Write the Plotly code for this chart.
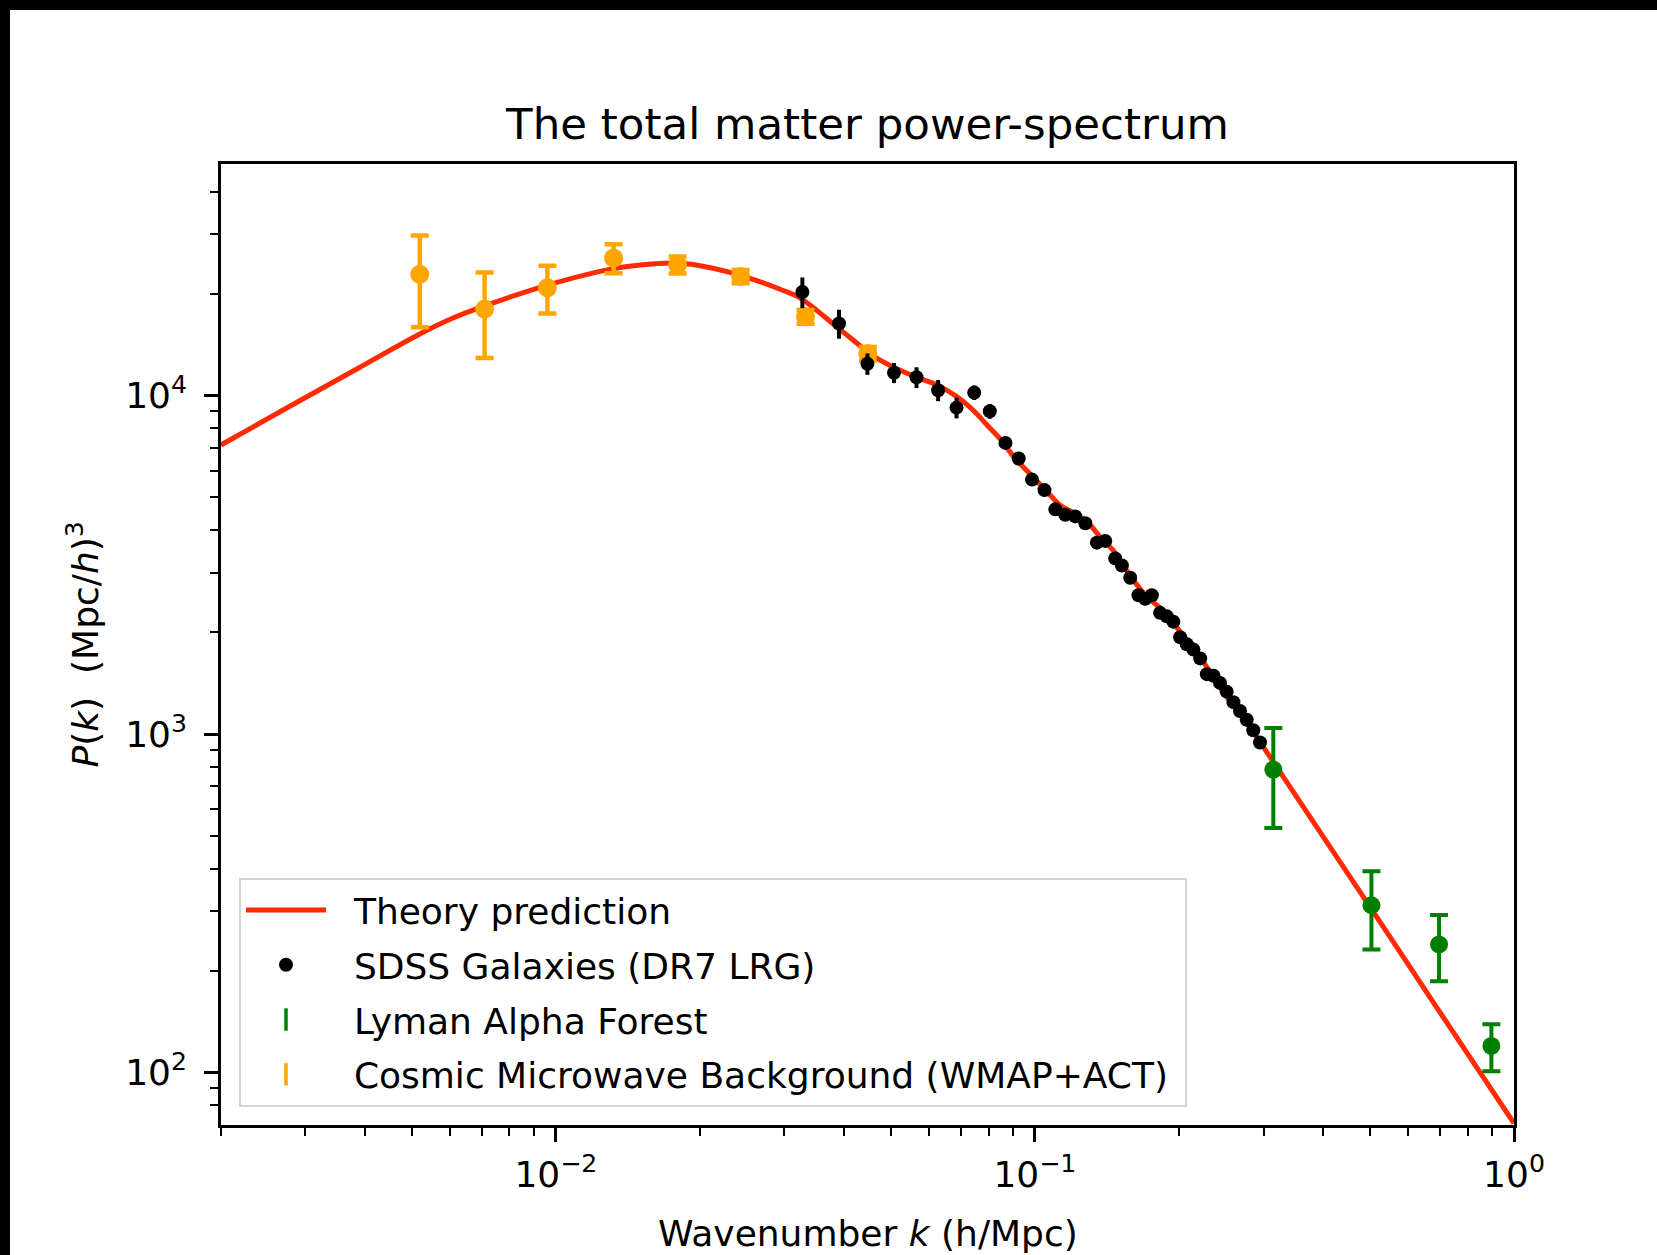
import plotly.graph_objects as go

# ---------------- data ----------------
k_theory = [0.0020, 0.00279, 0.00385, 0.0052, 0.0061, 0.0071, 0.00958, 0.0132, 0.0162, 0.0175,
            0.0192, 0.0243, 0.0294, 0.0322, 0.0387, 0.0453, 0.0476, 0.0559, 0.0625, 0.0689,
            0.0746, 0.0795, 0.0848, 0.0904, 0.0979, 0.1061, 0.1131, 0.1206, 0.1285, 0.1370,
            0.1461, 0.1582, 0.1714, 0.1857, 0.2012, 0.2180, 0.2360, 0.2559, 0.2772, 0.3002,
            0.5010, 0.6790, 1.0000]
P_theory = [7145, 9310, 12000, 15200, 16940, 18400, 21170, 23710, 24530, 24650,
            24420, 22650, 20600, 19500, 15900, 13300, 12700, 11400, 10750, 9900,
            9000, 8170, 7420, 6590, 5850, 5190, 4730, 4500, 4240, 3810,
            3470, 2930, 2540, 2310, 2000, 1740, 1470, 1245, 1080, 913,
            308, 161, 70.8]

k_sdss = [0.0327, 0.0390, 0.0447, 0.0508, 0.0566, 0.0628, 0.0686, 0.0747, 0.0805, 0.0868,
          0.0925, 0.0986, 0.1047, 0.1103, 0.1157, 0.1214, 0.1274, 0.1347, 0.1402, 0.1471,
          0.1519, 0.1581, 0.1645, 0.1699, 0.1754, 0.1825, 0.1885, 0.1945, 0.2010, 0.2075,
          0.2142, 0.2213, 0.2285, 0.2359, 0.2434, 0.2513, 0.2596, 0.2680, 0.2767, 0.2856,
          0.2950]
P_sdss = [20220, 16320, 12410, 11680, 11320, 10370, 9210, 10200, 8990, 7245,
          6513, 5645, 5256, 4610, 4446, 4395, 4193, 3676, 3720, 3303,
          3148, 2895, 2570, 2508, 2570, 2280, 2227, 2148, 1931, 1841,
          1776, 1673, 1503, 1486, 1416, 1334, 1242, 1170, 1102, 1026,
          944]
err_sdss = [2100, 1600, 900, 800, 800, 750, 650, 500, 450, 300,
            270, 230, 210, 185, 178, 175, 168, 147, 149, 132,
            126, 116, 103, 100, 103, 91, 89, 86, 77, 74,
            71, 67, 60, 59, 57, 53, 50, 47, 44, 41,
            38]

k_lya = [0.3145, 0.504, 0.6975, 0.897]
P_lya = [785, 312, 239, 119.8]
err_lya = [257, 81, 53, 19]

k_cmb = [0.0052, 0.0071, 0.0096, 0.0132, 0.01795, 0.0243, 0.0332, 0.0448]
P_cmb = [22800, 18000, 20830, 25470, 24330, 22480, 17100, 13300]
err_cmb = [6900, 5100, 3350, 2500, 1400, 1000, 800, 600]

x_major_vals = [0.01, 0.1, 1]
x_major_text = ["10<sup>\u22122</sup>", "10<sup>\u22121</sup>", "10<sup>0</sup>"]
x_minor_vals = [0.002, 0.003, 0.004, 0.005, 0.006, 0.007, 0.008, 0.009,
                0.02, 0.03, 0.04, 0.05, 0.06, 0.07, 0.08, 0.09,
                0.2, 0.3, 0.4, 0.5, 0.6, 0.7, 0.8, 0.9]
y_major_vals = [100, 1000, 10000]
y_major_text = ["10<sup>2</sup>", "10<sup>3</sup>", "10<sup>4</sup>"]
y_minor_vals = [80, 90, 200, 300, 400, 500, 600, 700, 800, 900,
                2000, 3000, 4000, 5000, 6000, 7000, 8000, 9000,
                20000, 30000, 40000]

# ---------------- figure ----------------
FONT = "DejaVu Sans"
W, H = 1657, 1255
ML, MR, MT, MB = 221, 143, 164, 130
PW, PH = W - ML - MR, H - MT - MB

RED = "#ff2a00"
ORANGE = "#ffa500"
GREEN = "#008000"
PAD = "\u00a0\u00a0"

fig = go.Figure()

fig.add_trace(go.Scatter(
    x=k_theory, y=P_theory, mode="lines", name=PAD + "Theory prediction",
    line=dict(color=RED, width=5, shape="spline", smoothing=1.0),
    legendrank=1, legendgroup="a"))

fig.add_trace(go.Scatter(
    x=k_cmb, y=P_cmb, mode="markers", showlegend=False,
    marker=dict(color=ORANGE, size=19),
    error_y=dict(type="data", array=err_cmb, color=ORANGE, thickness=4.5, width=9)))

fig.add_trace(go.Scatter(
    x=k_sdss, y=P_sdss, mode="markers", name=PAD + "SDSS Galaxies (DR7 LRG)",
    marker=dict(color="black", size=14),
    error_y=dict(type="data", array=err_sdss, color="black", thickness=4, width=0),
    legendrank=2, legendgroup="b"))

fig.add_trace(go.Scatter(
    x=k_lya, y=P_lya, mode="markers", showlegend=False,
    marker=dict(color=GREEN, size=18),
    error_y=dict(type="data", array=err_lya, color=GREEN, thickness=4, width=9)))

# legend proxies (error-bar glyphs)
fig.add_trace(go.Scatter(
    x=[None], y=[None], mode="markers", name=PAD + "Lyman Alpha Forest",
    marker=dict(symbol="line-ns-open", color=GREEN, size=16, line=dict(color=GREEN, width=3.5)),
    legendrank=3, legendgroup="c"))
fig.add_trace(go.Scatter(
    x=[None], y=[None], mode="markers",
    name=PAD + "Cosmic Microwave Background (WMAP+ACT)\u00a0",
    marker=dict(symbol="line-ns-open", color=ORANGE, size=16, line=dict(color=ORANGE, width=3.5)),
    legendrank=4, legendgroup="d"))

axis_common = dict(
    type="log", showgrid=False, zeroline=False,
    showline=True, linecolor="black", linewidth=2.5, mirror=True,
    ticks="outside", ticklen=14, tickwidth=2.5, tickcolor="black",
    tickfont=dict(family=FONT, size=36, color="black"),
)

fig.update_xaxes(
    **axis_common,
    ticklabelstandoff=2,
    range=[-2.69897, 0],
    tickmode="array", tickvals=x_major_vals, ticktext=x_major_text,
    minor=dict(ticks="outside", ticklen=8, tickwidth=2, tickcolor="black",
               tickmode="array", tickvals=x_minor_vals, showgrid=False),
)
fig.update_yaxes(
    **axis_common,
    ticklabelstandoff=10,
    range=[1.845, 4.684],
    tickmode="array", tickvals=y_major_vals, ticktext=y_major_text,
    minor=dict(ticks="outside", ticklen=8, tickwidth=2, tickcolor="black",
               tickmode="array", tickvals=y_minor_vals, showgrid=False),
)

def px_x(px):
    return (px - ML) / PW

def px_y(py):
    return (H - MB - py) / PH

# black strips along top and left edges of the picture
fig.add_shape(type="rect", xref="paper", yref="paper", layer="above",
              x0=px_x(-20), x1=px_x(10), y0=px_y(H + 20), y1=px_y(-20),
              fillcolor="black", line=dict(width=0))
fig.add_shape(type="rect", xref="paper", yref="paper", layer="above",
              x0=px_x(-20), x1=px_x(W + 20), y0=px_y(10), y1=px_y(-20),
              fillcolor="black", line=dict(width=0))

# axis titles
fig.add_annotation(text="Wavenumber <i>k</i> (h/Mpc)", xref="paper", yref="paper",
                   x=0.5, y=px_y(1233), xanchor="center", yanchor="middle",
                   showarrow=False, font=dict(family=FONT, size=36, color="black"))
fig.add_annotation(text="<i>P</i>(<i>k</i>)  (Mpc/<i>h</i>)<sup>3</sup>", xref="paper", yref="paper",
                   x=px_x(82), y=0.5, xanchor="center", yanchor="middle", textangle=-90,
                   showarrow=False, font=dict(family=FONT, size=36, color="black"))

fig.update_layout(
    width=W, height=H,
    margin=dict(l=ML, r=MR, t=MT, b=MB, autoexpand=False),
    paper_bgcolor="white", plot_bgcolor="white",
    font=dict(family=FONT, color="black"),
    title=dict(text="The total matter power-spectrum", x=0.5, xref="paper",
               y=1 - 124 / H, yref="container", yanchor="middle", xanchor="center",
               font=dict(family=FONT, size=43.5, color="black")),
    showlegend=True,
    legend=dict(x=px_x(239), y=px_y(1107), xanchor="left", yanchor="bottom",
                bgcolor="rgba(255,255,255,0.8)", bordercolor="#d4d4d4", borderwidth=2,
                font=dict(family=FONT, size=36, color="black"),
                tracegroupgap=5, itemwidth=80, traceorder="grouped"),
)

fig.write_html("out.html")
